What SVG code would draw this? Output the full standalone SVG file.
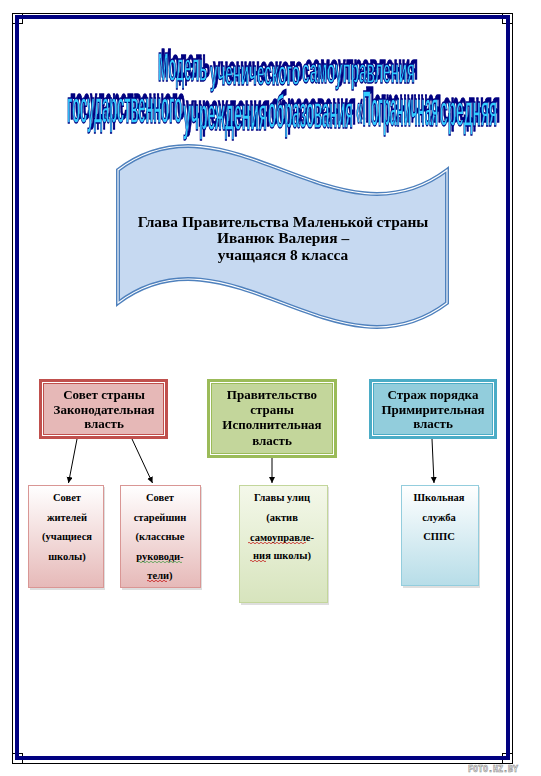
<svg xmlns="http://www.w3.org/2000/svg" width="541" height="776" viewBox="0 0 541 776">
<style>
.wa{font-family:"Liberation Sans",Arial,sans-serif;font-weight:bold;font-size:11.5px;fill:#33CCFF;stroke:#000080;stroke-width:1;vector-effect:non-scaling-stroke;}
.bt{font-family:"Liberation Serif","Times New Roman",serif;font-weight:bold;font-size:15.4px;fill:#000;text-anchor:middle;}
.ht{font-family:"Liberation Serif","Times New Roman",serif;font-weight:bold;font-size:13px;fill:#000;text-anchor:middle;}
.lt{font-family:"Liberation Serif","Times New Roman",serif;font-weight:bold;font-size:10.5px;fill:#000;text-anchor:middle;}
.conn{stroke:#000;stroke-width:1;fill:none;marker-end:url(#arr);}
.sq{fill:none;stroke:#c00000;stroke-width:0.7;}
</style>
<defs>
<marker id="arr" markerWidth="8" markerHeight="8" refX="6" refY="3" orient="auto" markerUnits="userSpaceOnUse">
<path d="M0,0 L6,3 L0,6 Z" fill="#000"/>
</marker>
<filter id="sh" x="-10%" y="-40%" width="120%" height="180%">
<feOffset in="SourceAlpha" dx="3" dy="-4" result="o"/>
<feFlood flood-color="#000080"/>
<feComposite in2="o" operator="in" result="s"/>
<feMerge><feMergeNode in="s"/><feMergeNode in="SourceGraphic"/></feMerge>
</filter>
<linearGradient id="gPink" x1="0" y1="0" x2="0" y2="1"><stop offset="0" stop-color="#ffffff"/><stop offset="1" stop-color="#e6b9b8"/></linearGradient>
<linearGradient id="gGreen" x1="0" y1="0" x2="0" y2="1"><stop offset="0" stop-color="#f4f8ea"/><stop offset="1" stop-color="#d7e4bd"/></linearGradient>
<linearGradient id="gBlue" x1="0" y1="0" x2="0" y2="1"><stop offset="0" stop-color="#ffffff"/><stop offset="1" stop-color="#b7dde8"/></linearGradient>
</defs>
<rect width="541" height="776" fill="#fff"/>

<!-- page frame -->
<g id="frame">
<rect x="12.5" y="13.5" width="500" height="750" fill="none" stroke="#000" stroke-width="1"/>
<rect x="17" y="17" width="491" height="741" fill="none" stroke="#000080" stroke-width="4"/>
<rect x="12.5" y="13.5" width="10" height="10" fill="#fff" stroke="#000"/>
<rect x="502.5" y="13.5" width="10" height="10" fill="#fff" stroke="#000"/>
<rect x="12.5" y="753.5" width="10" height="10" fill="#fff" stroke="#000"/>
<rect x="502.5" y="753.5" width="10" height="10" fill="#fff" stroke="#000"/>
<path d="M17,24 V17 H24 M501,17 H508 V24 M17,751 V758 H24 M501,758 H508 V751" fill="none" stroke="#000080" stroke-width="4"/>
</g>

<!-- WordArt title -->
<g id="title" filter="url(#sh)">
<text class="wa" transform="translate(158,81) scale(1,3.48)" textLength="49" lengthAdjust="spacingAndGlyphs">Модель</text>
<text class="wa" transform="translate(210,85) scale(1,3.13)" textLength="90" lengthAdjust="spacingAndGlyphs">ученического</text>
<text class="wa" transform="translate(302,83) scale(1,3.13)" textLength="113" lengthAdjust="spacingAndGlyphs">самоуправления</text>
<text class="wa" transform="translate(67,123) scale(1,4.1)" textLength="115" lengthAdjust="spacingAndGlyphs">государственного</text>
<text class="wa" transform="translate(183,130) scale(1,4.1)" textLength="84" lengthAdjust="spacingAndGlyphs">учреждения</text>
<text class="wa" transform="translate(268,128) scale(1,4.1)" textLength="85" lengthAdjust="spacingAndGlyphs">образования</text>
<text class="wa" transform="translate(356,126) scale(1,4.3)" textLength="82" lengthAdjust="spacingAndGlyphs">«Пограничная</text>
<text class="wa" transform="translate(440,126) scale(1,3.8)" textLength="57" lengthAdjust="spacingAndGlyphs">средняя</text>
</g>

<!-- banner -->
<g id="head">
<path d="M118,170 C228,87 337,253 447,170 L447,303 C337,386 228,220 118,303 Z" fill="#C6D9F1" stroke="#4F81BD" stroke-width="4" stroke-linejoin="miter"/>
<path d="M118,170 C228,87 337,253 447,170 L447,303 C337,386 228,220 118,303 Z" fill="none" stroke="#fff" stroke-width="1.1"/>
<text class="bt" x="283" y="227">Глава Правительства Маленькой страны</text>
<text class="bt" x="283" y="243">Иванюк Валерия –</text>
<text class="bt" x="283" y="260">учащаяся 8 класса</text>
</g>

<!-- top-level boxes -->
<g id="sovet">
<rect x="40.5" y="380.5" width="126" height="57" fill="#fff" stroke="#C0504D" stroke-width="3"/>
<rect x="43.5" y="383.5" width="120" height="51" fill="#E6B8B7" stroke="#C0504D" stroke-width="1"/>
<text class="ht" x="104" y="399">Совет страны</text>
<text class="ht" x="104" y="414">Законодательная</text>
<text class="ht" x="104" y="428">власть</text>
</g>
<g id="pravitelstvo">
<rect x="208.5" y="380.5" width="127" height="76" fill="#fff" stroke="#9BBB59" stroke-width="3"/>
<rect x="211.5" y="383.5" width="121" height="70" fill="#C3D69B" stroke="#9BBB59" stroke-width="1"/>
<text class="ht" x="272" y="399">Правительство</text>
<text class="ht" x="272" y="414">страны</text>
<text class="ht" x="272" y="429">Исполнительная</text>
<text class="ht" x="272" y="445">власть</text>
</g>
<g id="strazh">
<rect x="370.5" y="380.5" width="125" height="57" fill="#fff" stroke="#4BACC6" stroke-width="3"/>
<rect x="373.5" y="383.5" width="119" height="51" fill="#92CDDC" stroke="#4BACC6" stroke-width="1"/>
<text class="ht" x="433" y="399">Страж порядка</text>
<text class="ht" x="433" y="414">Примирительная</text>
<text class="ht" x="433" y="428">власть</text>
</g>

<!-- connectors -->
<g id="connectors">
<line class="conn" x1="77" y1="439" x2="68.5" y2="483"/>
<line class="conn" x1="132" y1="439" x2="152.5" y2="483"/>
<line class="conn" x1="272" y1="458" x2="272" y2="483"/>
<line class="conn" x1="432" y1="439" x2="434" y2="483"/>
</g>

<!-- lower boxes -->
<g id="zhiteli">
<rect x="30" y="487" width="75" height="103" fill="#c8c8c8" opacity="0.6"/>
<rect x="28.5" y="485.5" width="75" height="102" fill="url(#gPink)" stroke="#D99694" stroke-width="1"/>
<text class="lt" x="67" y="501">Совет</text>
<text class="lt" x="67" y="521">жителей</text>
<text class="lt" x="67" y="540">(учащиеся</text>
<text class="lt" x="67" y="560">школы)</text>
</g>
<g id="stareishiny">
<rect x="122" y="487" width="80" height="103" fill="#c8c8c8" opacity="0.6"/>
<rect x="120.5" y="485.5" width="80" height="102" fill="url(#gPink)" stroke="#D99694" stroke-width="1"/>
<text class="lt" x="160" y="501">Совет</text>
<text class="lt" x="160" y="521">старейшин</text>
<text class="lt" x="160" y="540">(классные</text>
<text class="lt" x="160" y="560">руководи-</text>
<text class="lt" x="160" y="579">тели)</text>
<path d="M138,562 q1,-1.5 2,0 t2,0 t2,0 t2,0 t2,0 t2,0 t2,0 t2,0 t2,0 t2,0 t2,0 t2,0 t2,0 t2,0 t2,0 t2,0 t2,0 t2,0 t2,0 t2,0 t2,0 t2,0" fill="none" stroke="#3a9a3a" stroke-width="0.7"/>
<path d="M147,581 q1,-1.5 2,0 t2,0 t2,0 t2,0 t2,0 t2,0 t2,0 t2,0 t2,0 t2,0" class="sq"/>
</g>
<g id="ulicy">
<rect x="241" y="487" width="88" height="118" fill="#c8c8c8" opacity="0.6"/>
<rect x="239.5" y="485.5" width="88" height="117" fill="url(#gGreen)" stroke="#C3D69B" stroke-width="1"/>
<text class="lt" x="282" y="501">Главы улиц</text>
<text class="lt" x="282" y="521">(актив</text>
<text class="lt" x="282" y="541">самоуправле-</text>
<text class="lt" x="282" y="559">ния школы)</text>
<path d="M248,543 q1,-1.5 2,0 t2,0 t2,0 t2,0 t2,0 t2,0 t2,0 t2,0 t2,0 t2,0 t2,0 t2,0 t2,0 t2,0 t2,0 t2,0 t2,0 t2,0 t2,0 t2,0 t2,0 t2,0 t2,0 t2,0 t2,0 t2,0 t2,0 t2,0 t2,0" class="sq"/>
<path d="M250,561 q1,-1.5 2,0 t2,0 t2,0 t2,0 t2,0 t2,0 t2,0 t2,0" class="sq"/>
</g>
<g id="sluzhba">
<rect x="403" y="487" width="77" height="101" fill="#c8c8c8" opacity="0.6"/>
<rect x="401.5" y="485.5" width="77" height="100" fill="url(#gBlue)" stroke="#93CDDD" stroke-width="1"/>
<text class="lt" x="439" y="501">Школьная</text>
<text class="lt" x="439" y="521">служба</text>
<text class="lt" x="439" y="540">СППС</text>
</g>

<text x="468" y="772" font-family="'DejaVu Sans Mono',monospace" font-size="9" font-weight="bold" fill="#fff" stroke="#888" stroke-width="0.6" textLength="50" lengthAdjust="spacingAndGlyphs">FOTO.HZ.BY</text>
</svg>
